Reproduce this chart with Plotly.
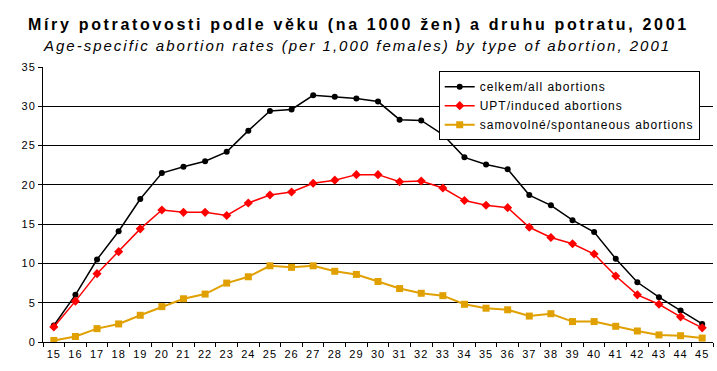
import plotly.graph_objects as go

ages = [str(a) for a in range(15, 46)]
total = [2.1, 6.0, 10.5, 14.1, 18.2, 21.5, 22.3, 23.0, 24.2, 26.9, 29.4, 29.6, 31.4, 31.2, 31.0, 30.6,
         28.3, 28.2, 26.4, 23.5, 22.6, 22.0, 18.7, 17.4, 15.5, 14.0, 10.6, 7.6, 5.7, 4.0, 2.3]
induced = [1.9, 5.2, 8.7, 11.5, 14.4, 16.8, 16.5, 16.5, 16.1, 17.7, 18.7, 19.1, 20.2, 20.6, 21.3, 21.3,
           20.4, 20.5, 19.6, 18.0, 17.4, 17.1, 14.6, 13.3, 12.5, 11.2, 8.4, 6.0, 4.8, 3.2, 1.8]
spont = [0.2, 0.7, 1.7, 2.3, 3.4, 4.5, 5.5, 6.1, 7.5, 8.3, 9.7, 9.5, 9.7, 9.0, 8.6, 7.7,
         6.8, 6.2, 5.9, 4.8, 4.3, 4.1, 3.3, 3.6, 2.6, 2.6, 2.0, 1.4, 0.9, 0.8, 0.5]
y_ticks = [0, 5, 10, 15, 20, 25, 30, 35]

names = ["celkem/all abortions", "UPT/induced abortions", "samovolné/spontaneous abortions"]
title = "Míry potratovosti podle věku (na 1000 žen) a druhu potratu, 2001"
subtitle = "Age-specific abortion rates (per 1,000 females) by type of abortion, 2001"

FONT = "Liberation Sans, Arial, sans-serif"


def spaced(text, px):
    return '<span style="letter-spacing:%spx">%s</span>' % (px, text)


fig = go.Figure()
fig.add_trace(go.Scatter(x=ages, y=total, name=spaced(names[0], 1), mode="lines+markers",
                         line=dict(color="black", width=1.5),
                         marker=dict(symbol="circle", size=6, color="black")))
fig.add_trace(go.Scatter(x=ages, y=induced, name=spaced(names[1], 1), mode="lines+markers",
                         line=dict(color="#FF0000", width=1.5),
                         marker=dict(symbol="diamond", size=7, color="#FF0000")))
fig.add_trace(go.Scatter(x=ages, y=spont, name=spaced(names[2], 1), mode="lines+markers",
                         line=dict(color="#E0A000", width=2),
                         marker=dict(symbol="square", size=7, color="#E0A000")))

fig.update_layout(
    width=717, height=371,
    margin=dict(l=43, r=4, t=67, b=29),
    paper_bgcolor="white", plot_bgcolor="white",
    font=dict(family=FONT, size=11, color="black"),
    showlegend=True,
    legend=dict(x=0.5906, y=0.985, xanchor="left", yanchor="top",
                bgcolor="white", bordercolor="black", borderwidth=1,
                font=dict(size=12, family=FONT), tracegroupgap=0, itemwidth=30),
    annotations=[
        dict(text="<b>" + spaced(title, 2.67) + "</b>", xref="paper", yref="paper", x=0.5, y=1.0,
             xanchor="center", yanchor="middle", yshift=43, xshift=-20, showarrow=False,
             font=dict(size=16, family=FONT, color="black")),
        dict(text="<i>" + spaced(subtitle, 2.0) + "</i>", xref="paper", yref="paper", x=0.5, y=1.0,
             xanchor="center", yanchor="middle", yshift=22, xshift=-21, showarrow=False,
             font=dict(size=15, family=FONT, color="black")),
    ],
)
fig.update_xaxes(type="category", range=[-0.5, 30.5], showgrid=False,
                 tickmode="array", tickvals=ages, ticktext=[spaced(a, 1) for a in ages],
                 tickangle=0, ticklabelstandoff=2,
                 showline=True, linecolor="black", linewidth=1,
                 ticks="outside", tickson="boundaries", ticklen=4, tickcolor="black",
                 tickfont=dict(size=11, family=FONT))
fig.update_yaxes(range=[0, 35], tickmode="array", tickvals=y_ticks,
                 ticktext=[spaced(str(v), 1) for v in y_ticks],
                 showgrid=True, gridcolor="black", gridwidth=1,
                 showline=True, linecolor="black", linewidth=1,
                 ticks="outside", ticklen=4, tickcolor="black", zeroline=False,
                 tickfont=dict(size=11, family=FONT))

fig.write_html("out.html", config={"displayModeBar": False},
               post_script="document.body.style.margin='0';")
